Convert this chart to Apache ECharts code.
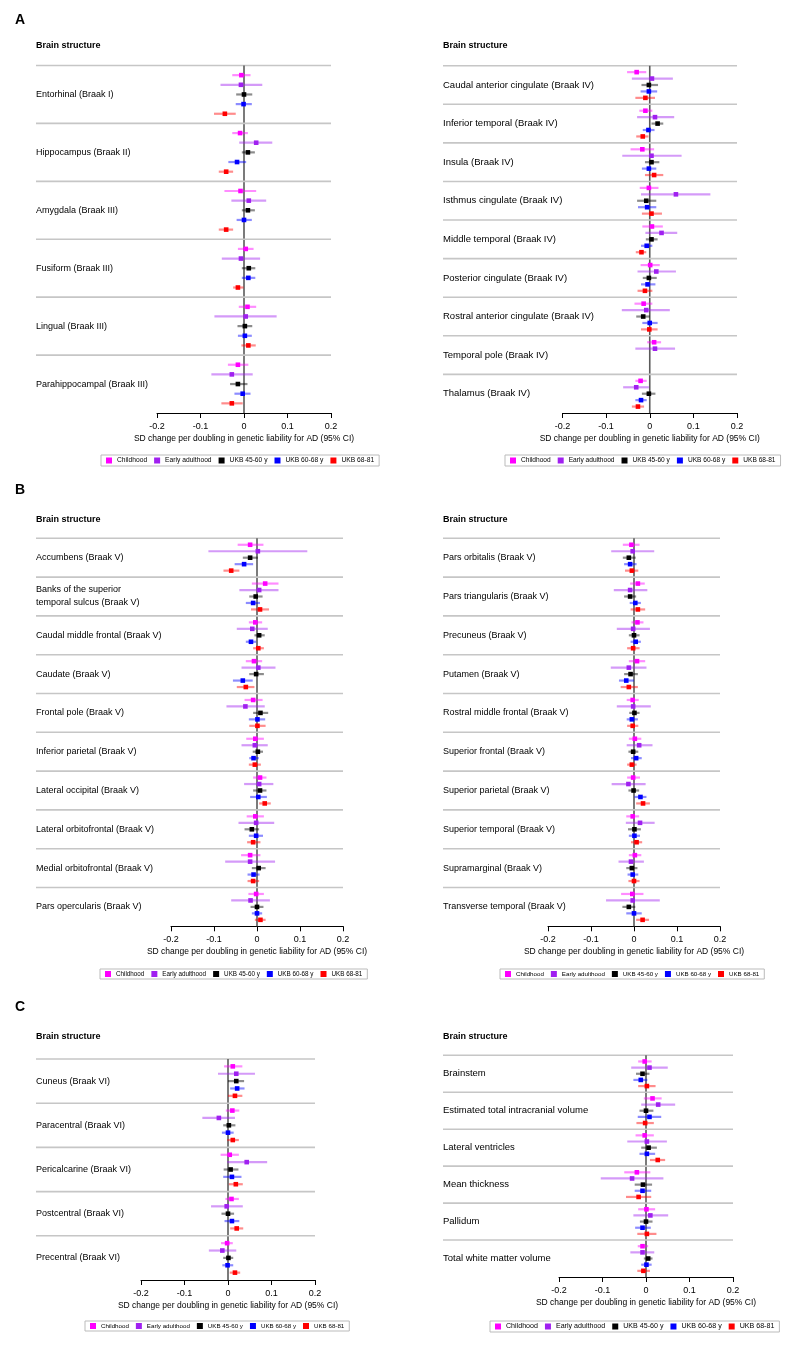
<!DOCTYPE html>
<html><head><meta charset="utf-8">
<script src="https://cdn.jsdelivr.net/npm/echarts@6/dist/echarts.min.js"></script>
<style>html,body{margin:0;padding:0;background:#fff}#c{width:800px;height:1347px}</style>
</head><body><div id="c"></div><script>
// ---------- DATA ----------
const seriesNames = ['Childhood', 'Early adulthood', 'UKB 45-60 y', 'UKB 60-68 y', 'UKB 68-81'];
const tickLabels = ['-0.2', '-0.1', '0', '0.1', '0.2'];
const axisTitle = 'SD change per doubling in genetic liability for AD (95% CI)';
// each entry: [estimate, lower 95% CI, upper 95% CI]

// Panel A (left)
const A1_structures = ['Entorhinal (Braak I)', 'Hippocampus (Braak II)', 'Amygdala (Braak III)', 'Fusiform (Braak III)', 'Lingual (Braak III)', 'Parahippocampal (Braak III)'];
const A1_childhood = [[-0.006,-0.027,0.015],[-0.009,-0.027,0.009],[-0.008,-0.045,0.028],[0.004,-0.014,0.022],[0.008,-0.012,0.028],[-0.014,-0.037,0.010]];
const A1_early = [[-0.007,-0.054,0.042],[0.028,-0.011,0.065],[0.011,-0.029,0.051],[-0.007,-0.051,0.037],[0.004,-0.068,0.075],[-0.028,-0.075,0.020]];
const A1_ukb4560 = [[0.000,-0.018,0.019],[0.009,-0.005,0.025],[0.009,-0.005,0.025],[0.011,-0.005,0.026],[0.002,-0.015,0.019],[-0.014,-0.032,0.008]];
const A1_ukb6068 = [[-0.001,-0.019,0.018],[-0.016,-0.036,0.005],[0.000,-0.017,0.018],[0.010,-0.005,0.026],[0.002,-0.014,0.018],[-0.003,-0.022,0.015]];
const A1_ukb6881 = [[-0.044,-0.069,-0.019],[-0.041,-0.058,-0.025],[-0.041,-0.058,-0.025],[-0.014,-0.025,-0.001],[0.010,-0.006,0.027],[-0.028,-0.052,-0.003]];

// Panel A (right)
const A2_structures = ['Caudal anterior cingulate (Braak IV)', 'Inferior temporal (Braak IV)', 'Insula (Braak IV)', 'Isthmus cingulate (Braak IV)', 'Middle temporal (Braak IV)', 'Posterior cingulate (Braak IV)', 'Rostral anterior cingulate (Braak IV)', 'Temporal pole (Braak IV)', 'Thalamus (Braak IV)'];
const A2_childhood = [[-0.030,-0.052,-0.008],[-0.010,-0.024,0.006],[-0.017,-0.044,0.010],[-0.002,-0.023,0.020],[0.005,-0.017,0.030],[0.001,-0.021,0.023],[-0.014,-0.035,0.006],[0.010,-0.006,0.026],[-0.021,-0.033,-0.007]];
const A2_early = [[0.005,-0.041,0.053],[0.012,-0.029,0.056],[0.004,-0.063,0.073],[0.060,-0.020,0.139],[0.027,-0.010,0.063],[0.015,-0.028,0.060],[-0.008,-0.064,0.046],[0.012,-0.033,0.058],[-0.031,-0.061,-0.002]];
const A2_ukb4560 = [[-0.002,-0.019,0.019],[0.018,0.004,0.031],[0.004,-0.011,0.022],[-0.008,-0.029,0.015],[0.004,-0.009,0.018],[-0.002,-0.016,0.016],[-0.015,-0.031,0.000],null,[-0.002,-0.018,0.013]];
const A2_ukb6068 = [[-0.002,-0.021,0.017],[-0.003,-0.016,0.011],[-0.002,-0.018,0.015],[-0.006,-0.027,0.015],[-0.007,-0.020,0.006],[-0.005,-0.020,0.013],[0.000,-0.017,0.018],null,[-0.020,-0.033,-0.007]];
const A2_ukb6881 = [[-0.010,-0.033,0.012],[-0.016,-0.031,-0.003],[0.010,-0.011,0.031],[0.004,-0.018,0.028],[-0.019,-0.032,-0.008],[-0.011,-0.028,0.006],[-0.001,-0.020,0.018],null,[-0.027,-0.041,-0.013]];

// Panel B (left)
const B1_structures = ['Accumbens (Braak V)', 'Banks of the superior\ntemporal sulcus (Braak V)', 'Caudal middle frontal (Braak V)', 'Caudate (Braak V)', 'Frontal pole (Braak V)', 'Inferior parietal (Braak V)', 'Lateral occipital (Braak V)', 'Lateral orbitofrontal (Braak V)', 'Medial orbitofrontal (Braak V)', 'Pars opercularis (Braak V)'];
const B1_childhood = [[-0.016,-0.045,0.015],[0.019,-0.012,0.050],[-0.004,-0.019,0.012],[-0.007,-0.026,0.012],[-0.009,-0.029,0.013],[-0.004,-0.025,0.016],[0.007,-0.009,0.022],[-0.004,-0.024,0.016],[-0.016,-0.037,0.008],[-0.002,-0.020,0.016]];
const B1_early = [[0.002,-0.113,0.117],[0.005,-0.041,0.050],[-0.011,-0.047,0.025],[0.003,-0.036,0.043],[-0.027,-0.071,0.018],[-0.005,-0.036,0.025],[0.005,-0.030,0.038],[-0.002,-0.043,0.040],[-0.016,-0.074,0.042],[-0.015,-0.060,0.030]];
const B1_ukb4560 = [[-0.016,-0.033,0.002],[-0.003,-0.018,0.013],[0.005,-0.006,0.018],[-0.002,-0.018,0.016],[0.008,-0.009,0.026],[0.002,-0.010,0.014],[0.007,-0.009,0.022],[-0.012,-0.029,0.005],[0.004,-0.012,0.020],[0.000,-0.015,0.015]];
const B1_ukb6068 = [[-0.030,-0.052,-0.009],[-0.009,-0.026,0.007],[-0.014,-0.026,-0.002],[-0.033,-0.056,-0.010],[0.001,-0.019,0.019],[-0.008,-0.018,0.004],[0.003,-0.016,0.023],[-0.002,-0.019,0.014],[-0.008,-0.022,0.006],[0.000,-0.012,0.012]];
const B1_ukb6881 = [[-0.060,-0.078,-0.041],[0.007,-0.014,0.028],[0.003,-0.009,0.016],[-0.026,-0.047,-0.006],[0.001,-0.018,0.020],[-0.005,-0.019,0.009],[0.018,0.005,0.032],[-0.009,-0.023,0.008],[-0.009,-0.022,0.005],[0.008,-0.005,0.020]];

// Panel B (right)
const B2_structures = ['Pars orbitalis (Braak V)', 'Pars triangularis (Braak V)', 'Precuneus (Braak V)', 'Putamen (Braak V)', 'Rostral middle frontal (Braak V)', 'Superior frontal (Braak V)', 'Superior parietal (Braak V)', 'Superior temporal (Braak V)', 'Supramarginal (Braak V)', 'Transverse temporal (Braak V)'];
const B2_childhood = [[-0.006,-0.026,0.013],[0.009,-0.009,0.025],[0.008,-0.006,0.022],[0.007,-0.012,0.026],[-0.003,-0.017,0.011],[0.002,-0.012,0.017],[-0.002,-0.016,0.014],[-0.003,-0.018,0.012],[0.002,-0.012,0.017],[-0.004,-0.030,0.022]];
const B2_early = [[-0.003,-0.053,0.047],[-0.009,-0.047,0.031],[-0.002,-0.040,0.037],[-0.012,-0.054,0.029],[-0.002,-0.040,0.039],[0.012,-0.017,0.043],[-0.013,-0.052,0.027],[0.014,-0.019,0.048],[-0.007,-0.036,0.023],[-0.003,-0.065,0.060]];
const B2_ukb4560 = [[-0.012,-0.026,0.004],[-0.009,-0.023,0.005],[0.000,-0.012,0.013],[-0.008,-0.023,0.009],[0.001,-0.011,0.013],[-0.002,-0.013,0.010],[-0.001,-0.013,0.012],[0.001,-0.014,0.016],[-0.005,-0.018,0.008],[-0.012,-0.027,0.003]];
const B2_ukb6068 = [[-0.009,-0.023,0.006],[0.003,-0.010,0.016],[0.004,-0.008,0.016],[-0.018,-0.035,0.000],[-0.005,-0.017,0.009],[0.005,-0.007,0.018],[0.015,0.001,0.029],[0.001,-0.012,0.014],[-0.003,-0.015,0.010],[0.000,-0.018,0.018]];
const B2_ukb6881 = [[-0.005,-0.021,0.010],[0.009,-0.008,0.026],[-0.002,-0.016,0.013],[-0.012,-0.031,0.009],[-0.003,-0.016,0.010],[-0.005,-0.016,0.006],[0.021,0.005,0.037],[0.006,-0.007,0.019],[0.000,-0.013,0.013],[0.020,0.005,0.035]];

// Panel C (left)
const C1_structures = ['Cuneus (Braak VI)', 'Paracentral (Braak VI)', 'Pericalcarine (Braak VI)', 'Postcentral (Braak VI)', 'Precentral (Braak VI)'];
const C1_childhood = [[0.011,-0.009,0.033],[0.010,-0.005,0.026],[0.004,-0.017,0.025],[0.008,-0.006,0.025],[-0.002,-0.016,0.011]];
const C1_early = [[0.019,-0.023,0.062],[-0.021,-0.059,0.016],[0.043,-0.002,0.090],[-0.003,-0.039,0.034],[-0.013,-0.044,0.019]];
const C1_ukb4560 = [[0.019,0.000,0.037],[0.002,-0.011,0.017],[0.006,-0.010,0.024],[0.000,-0.015,0.014],[0.001,-0.011,0.012]];
const C1_ukb6068 = [[0.021,0.005,0.038],[0.000,-0.014,0.013],[0.009,-0.011,0.031],[0.009,-0.008,0.026],[-0.001,-0.013,0.012]];
const C1_ukb6881 = [[0.016,0.000,0.033],[0.011,-0.002,0.025],[0.018,0.002,0.034],[0.020,0.005,0.035],[0.016,0.004,0.028]];

// Panel C (right)
const C2_structures = ['Brainstem', 'Estimated total intracranial volume', 'Lateral ventricles', 'Mean thickness', 'Pallidum', 'Total white matter volume'];
const C2_childhood = [[-0.003,-0.018,0.013],[0.015,-0.005,0.036],[-0.003,-0.024,0.018],[-0.021,-0.050,0.010],[0.001,-0.018,0.021],[-0.008,-0.019,0.005]];
const C2_early = [[0.008,-0.034,0.050],[0.028,-0.011,0.067],[0.002,-0.043,0.048],[-0.032,-0.104,0.040],[0.010,-0.029,0.051],[-0.008,-0.036,0.019]];
const C2_ukb4560 = [[-0.008,-0.023,0.008],[0.000,-0.015,0.017],[0.006,-0.011,0.025],[-0.007,-0.026,0.014],[0.000,-0.014,0.015],[0.005,-0.005,0.015]];
const C2_ukb6068 = [[-0.012,-0.029,0.003],[0.008,-0.019,0.035],[0.002,-0.015,0.021],[-0.008,-0.026,0.012],[-0.008,-0.025,0.011],[0.001,-0.011,0.013]];
const C2_ukb6881 = [[0.002,-0.018,0.022],[-0.002,-0.022,0.018],[0.027,0.009,0.044],[-0.017,-0.046,0.012],[0.002,-0.020,0.024],[-0.006,-0.020,0.009]];

// ---------- LAYOUT / STYLE ----------
const seriesColors = ['#ff00ff', '#a020f0', '#000000', '#0000ff', '#ff0000'];
const FONT = 'Liberation Sans, Arial, Helvetica, sans-serif';

const panels = [
  { struct: A1_structures, vals: [A1_childhood, A1_early, A1_ukb4560, A1_ukb6068, A1_ukb6881], labelFont: 9,
    grid: { left: 157, top: 65.5, width: 174, height: 347.5 }, labelX: 36, headerY: 46, legend: { left: 101, top: 455, font: 6.7 } },
  { struct: A2_structures, vals: [A2_childhood, A2_early, A2_ukb4560, A2_ukb6068, A2_ukb6881], labelFont: 9.5,
    grid: { left: 562.5, top: 65.7, width: 174.5, height: 347.3 }, labelX: 443, headerY: 46, legend: { left: 505, top: 455, font: 6.6 } },
  { struct: B1_structures, vals: [B1_childhood, B1_early, B1_ukb4560, B1_ukb6068, B1_ukb6881], labelFont: 9,
    grid: { left: 171, top: 538.3, width: 172, height: 388 }, labelX: 36, headerY: 520, legend: { left: 100, top: 969, font: 6.3 } },
  { struct: B2_structures, vals: [B2_childhood, B2_early, B2_ukb4560, B2_ukb6068, B2_ukb6881], labelFont: 9,
    grid: { left: 548, top: 538.3, width: 172, height: 388 }, labelX: 443, headerY: 520, legend: { left: 500, top: 969, font: 6.2 } },
  { struct: C1_structures, vals: [C1_childhood, C1_early, C1_ukb4560, C1_ukb6068, C1_ukb6881], labelFont: 9,
    grid: { left: 141, top: 1059, width: 174, height: 221 }, labelX: 36, headerY: 1037, legend: { left: 85, top: 1321, font: 6.2 } },
  { struct: C2_structures, vals: [C2_childhood, C2_early, C2_ukb4560, C2_ukb6068, C2_ukb6881], labelFont: 9.5,
    grid: { left: 559, top: 1055.3, width: 174, height: 221.7 }, labelX: 443, headerY: 1037, legend: { left: 490, top: 1321, font: 7.1 } }
];

function structSeries(p, gi) {
  const G = p.struct.length;
  return {
    type: 'custom', xAxisIndex: gi, yAxisIndex: gi, silent: true, z: 1,
    data: p.struct.map((s, i) => [0, i * 6]),
    encode: { x: 0, y: 1 },
    renderItem(params, api) {
      const i = params.dataIndex;
      const cs = params.coordSys;
      const sep = api.coord([0, i * 6]);
      const mid = api.coord([0, i * 6 + 3]);
      const children = [
        { type: 'line', shape: { x1: p.labelX, y1: sep[1], x2: cs.x + cs.width, y2: sep[1] },
          style: { stroke: '#c6c6c6', lineWidth: 1.6 } },
        { type: 'text', x: p.labelX, y: mid[1],
          style: { text: p.struct[i], fill: '#000', fontSize: p.labelFont, fontFamily: FONT, lineHeight: 13,
                   textAlign: 'left', textVerticalAlign: 'middle', align: 'left', verticalAlign: 'middle' } }
      ];
      if (i === 0) {
        const z0 = api.coord([0, 0]), z1 = api.coord([0, G * 6]);
        children.push({ type: 'line', shape: { x1: z0[0], y1: z0[1], x2: z1[0], y2: z1[1] },
          style: { stroke: '#5a5a5a', lineWidth: 1.6 } });
      }
      return { type: 'group', children };
    }
  };
}

function ciSeries(p, gi, k) {
  const color = seriesColors[k];
  const data = [];
  p.vals[k].forEach((v, i) => { if (v) data.push([v[0], v[1], v[2], i * 6 + k + 1]); });
  return {
    type: 'custom', name: seriesNames[k], xAxisIndex: gi, yAxisIndex: gi, z: 2,
    itemStyle: { color }, data, encode: { x: [0, 1, 2], y: 3 },
    renderItem(params, api) {
      const y = api.value(3);
      const a = api.coord([api.value(1), y]);
      const b = api.coord([api.value(2), y]);
      const c = api.coord([api.value(0), y]);
      return { type: 'group', children: [
        { type: 'line', shape: { x1: a[0], y1: a[1], x2: b[0], y2: b[1] },
          style: { stroke: color, lineWidth: 2.2, opacity: 0.45 } },
        { type: 'rect', shape: { x: c[0] - 2.3, y: c[1] - 2.3, width: 4.6, height: 4.6 },
          style: { fill: color } }
      ] };
    }
  };
}

const option = {
  backgroundColor: '#fff',
  animation: false,
  grid: panels.map(p => Object.assign({ containLabel: false }, p.grid)),
  xAxis: panels.map((p, gi) => ({
    type: 'value', gridIndex: gi, min: -0.2, max: 0.2, interval: 0.1,
    axisLine: { show: true, onZero: false, lineStyle: { color: '#000', width: 1 } },
    axisTick: { show: true, length: 5, lineStyle: { color: '#000' } },
    splitLine: { show: false },
    axisLabel: { color: '#000', fontSize: 9, fontFamily: FONT, margin: 9,
      formatter: v => tickLabels[Math.round((v + 0.2) * 10)] },
    name: axisTitle, nameLocation: 'middle', nameGap: 21,
    nameTextStyle: { color: '#000', fontSize: 8.5, fontFamily: FONT }
  })),
  yAxis: panels.map((p, gi) => ({
    type: 'value', gridIndex: gi, inverse: true, min: 0, max: p.struct.length * 6, show: false
  })),
  legend: panels.map(p => ({
    data: seriesNames, left: p.legend.left, top: p.legend.top, orient: 'horizontal', width: 360,
    icon: 'rect', itemWidth: 6, itemHeight: 6, itemGap: 7, selectedMode: false,
    borderColor: '#bbb', borderWidth: 1, padding: [2, 5],
    textStyle: { fontSize: p.legend.font, fontFamily: FONT, color: '#000' }
  })),
  graphic: [
    { type: 'text', left: 15, top: 13, style: { text: 'A', fontSize: 14, fontWeight: 'bold', fontFamily: FONT, fill: '#000' } },
    { type: 'text', left: 15, top: 483, style: { text: 'B', fontSize: 14, fontWeight: 'bold', fontFamily: FONT, fill: '#000' } },
    { type: 'text', left: 15, top: 1000, style: { text: 'C', fontSize: 14, fontWeight: 'bold', fontFamily: FONT, fill: '#000' } }
  ].concat(panels.map(p => ({
    type: 'text', left: p.labelX, top: p.headerY - 5,
    style: { text: 'Brain structure', fontSize: 9, fontWeight: 'bold', fontFamily: FONT, fill: '#000' }
  }))),
  series: []
};

panels.forEach((p, gi) => {
  option.series.push(structSeries(p, gi));
  for (let k = 0; k < 5; k++) option.series.push(ciSeries(p, gi, k));
});

const chart = echarts.init(document.getElementById('c'), null, { renderer: 'canvas' });
chart.setOption(option);
</script></body></html>
